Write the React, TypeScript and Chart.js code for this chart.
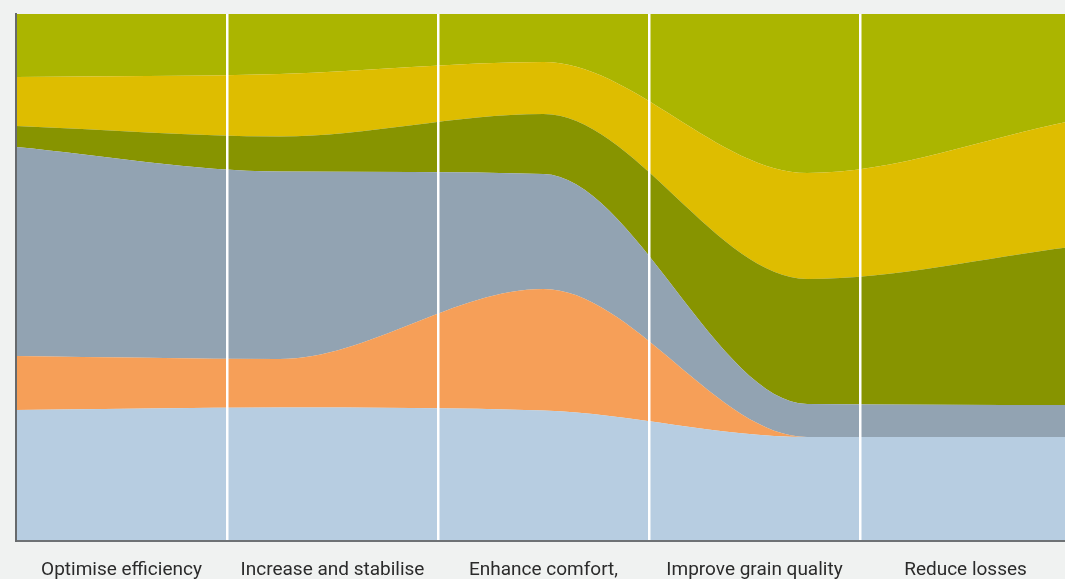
import React, { useEffect, useRef } from "react";
import { Chart, registerables } from "chart.js";

Chart.register(...registerables);

const categories = [
  "Optimise efficiency",
  "Increase and stabilise",
  "Enhance comfort,",
  "Improve grain quality",
  "Reduce losses",
];

// positions of the curve points along the hidden linear axis
const pointX = [0, 1, 2, 3, 4];

// stacked (100%) shares, bottom to top
const lightBlue = [24.86, 25.33, 24.76, 19.73, 19.73];
const orange = [10.24, 9.21, 23.06, 0, 0];
const grey = [39.66, 35.57, 21.82, 6.27, 6.08];
const olive = [3.99, 6.65, 11.38, 23.72, 29.98];
const yellow = [9.3, 11.85, 9.87, 20.11, 23.91];
const green = [11.95, 11.39, 9.11, 30.17, 20.3];

const seriesValues = [lightBlue, orange, grey, olive, yellow, green];
const seriesColors = ["#b7cde1", "#f69f58", "#92a3b2", "#879400", "#debd00", "#abb500"];
const seriesNames = ["A", "B", "C", "D", "E", "F"];

export default function App() {
  const ref = useRef<HTMLCanvasElement | null>(null);

  useEffect(() => {
    if (!ref.current) return;
    const datasets = seriesValues.map((vals, i) => ({
      label: seriesNames[i],
      data: vals.map((v, j) => ({ x: pointX[j], y: v })),
      xAxisID: "xd",
      yAxisID: "y",
      backgroundColor: seriesColors[i],
      borderColor: seriesColors[i],
      borderWidth: 0,
      pointRadius: 0,
      fill: i === 0 ? "origin" : "-1",
      cubicInterpolationMode: "monotone" as const,
    }));

    const chart = new Chart(ref.current, {
      type: "line",
      data: { labels: categories, datasets },
      options: {
        animation: false,
        responsive: false,
        devicePixelRatio: 1,
        layout: { padding: { top: 14, right: 9, left: 0, bottom: 0 } },
        plugins: { legend: { display: false }, tooltip: { enabled: false } },
        scales: {
          xd: {
            type: "linear",
            axis: "x",
            position: "bottom",
            display: false,
            min: 0,
            max: 4,
          },
          x: {
            type: "category",
            labels: categories,
            position: "bottom",
            offset: true,
            afterFit: (s: any) => {
              s.height = 38;
            },
            grid: {
              display: true,
              offset: true,
              drawTicks: false,
              z: 1,
              lineWidth: 2.5,
              color: (ctx: any) =>
                ctx.index === 0 || ctx.index === categories.length ? "rgba(0,0,0,0)" : "#ffffff",
            },
            border: { display: true, color: "#6e7275", width: 2, z: 2 },
            ticks: {
              padding: 18,
              color: "#2b2b2b",
              font: { family: "Roboto", size: 19 },
              maxRotation: 0,
              autoSkip: false,
            },
          },
          y: {
            stacked: true,
            min: 0,
            max: 100,
            afterFit: (s: any) => {
              s.width = 16;
            },
            grid: { display: false },
            border: { display: true, color: "#676a6c", width: 2, z: 2 },
            ticks: { display: false },
          },
        },
      },
    });
    return () => chart.destroy();
  }, []);

  return (
    <div
      style={{
        position: "fixed",
        left: 0,
        top: 0,
        width: 1065,
        height: 579,
        overflow: "hidden",
        background: "#f0f2f1",
      }}
    >
      <canvas ref={ref} width={1080} height={579} style={{ display: "block", width: 1080, height: 579 }} />
    </div>
  );
}
